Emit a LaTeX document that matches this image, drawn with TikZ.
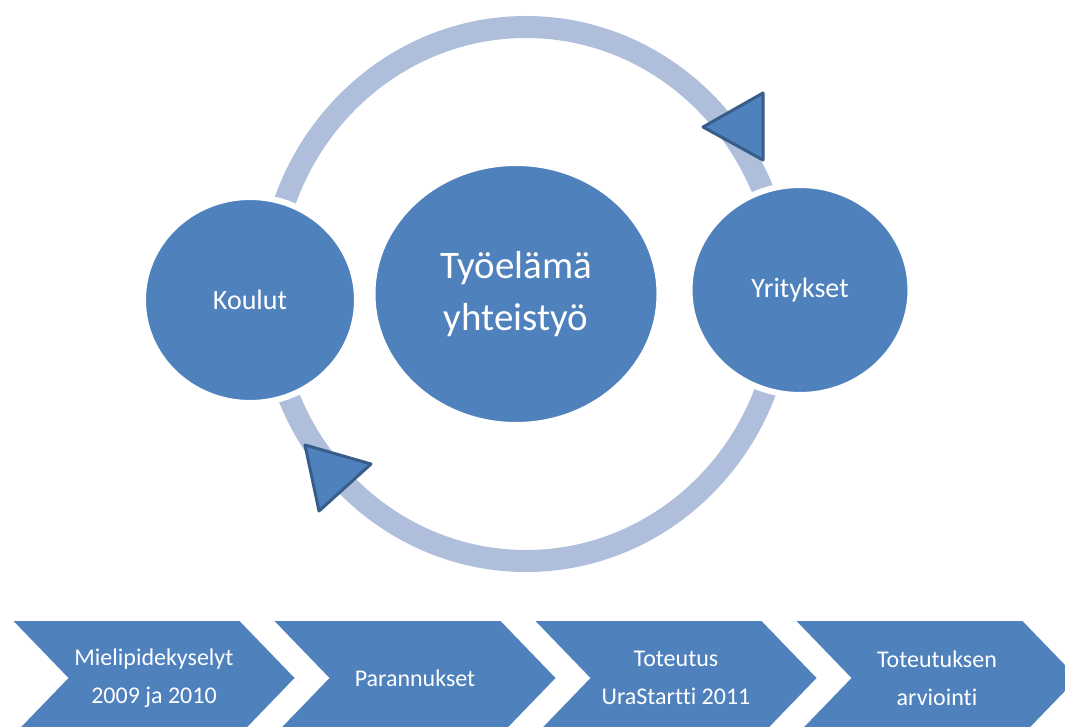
\documentclass[tikz,border=0pt]{standalone}
\usepackage{fontspec}
\setmainfont{Carlito}[Ligatures=NoCommon]
\usetikzlibrary{positioning,shapes.geometric,shapes.symbols}
\definecolor{nodeblue}{HTML}{4F81BD}
\definecolor{ringblue}{HTML}{AFBFDB}
\definecolor{edgeblue}{HTML}{385D8A}

\begin{document}
\begin{tikzpicture}[x=1pt,y=-1pt,
		bubble/.style={ellipse,fill=nodeblue,draw=white,line width=6pt,text=white,align=center,inner sep=0pt},
		stagebox/.style={signal,signal from=west,signal to=east,signal pointer angle=92,
			fill=nodeblue,text=white,align=center,inner sep=0pt,
			minimum width=281pt,minimum height=114pt,font=\fontsize{24}{38}\selectfont},
		cyclehead/.style={fill=nodeblue,draw=edgeblue,line width=3pt,line join=round}]
		\useasboundingbox (0,0) rectangle (1065,727);
		\clip (0,0) rectangle (1065,727);
		
		% kehä
		\draw[ringblue,line width=22pt] (526,294) ellipse [x radius=257,y radius=267];
		
		\node[bubble,minimum width=214pt,minimum height=206pt,font=\fontsize{28}{32}\selectfont] (koulut) at (250,300) {Koulut};
		\node[bubble,minimum width=287pt,minimum height=262pt,font=\fontsize{39}{52}\selectfont] (tyo) at (516,294) {Työelämä\\yhteistyö};
		\node[bubble,minimum width=221pt,minimum height=210pt,font=\fontsize{28}{32}\selectfont] (yritykset) at (800,290) {Yritykset};
		
		% nuolenkärjet
		\draw[cyclehead] (763,93) -- (703,127) -- (763,160) -- cycle;
		\draw[cyclehead] (305,445) -- (371,464) -- (319,511) -- cycle;
		
		% vaiheet
		\node[stagebox] (s1) at (154,678) {Mielipidekyselyt\\2009 ja 2010};
		\node[stagebox] (s2) at (415,678) {Parannukset};
		\node[stagebox] (s3) at (676,678) {Toteutus\\UraStartti 2011};
		\node[stagebox] (s4) at (937,678) {Toteutuksen\\arviointi};
		
	\end{tikzpicture}
\end{document}
